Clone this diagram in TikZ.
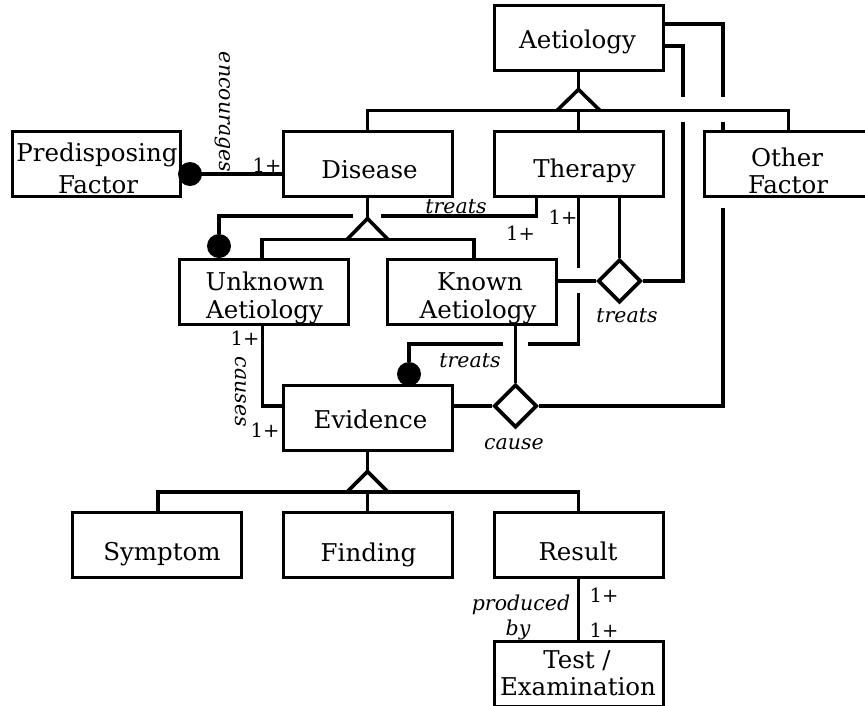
\documentclass[tikz,border=0pt]{standalone}
\usepackage{fontspec}
\setmainfont{DejaVu Serif}
\usetikzlibrary{calc,shapes.geometric,backgrounds}
\tikzset{
  conn/.style={line width=3.6pt, line cap=butt, line join=miter},
  box/.style={draw, line width=3pt, fill=white, minimum width=169pt, minimum height=65pt, inner sep=0pt},
  btxt/.style={anchor=base, inner sep=0pt, font=\fontsize{24.5}{28}\selectfont},
  itl/.style={anchor=base, inner sep=0pt, font=\fontsize{20.5}{24}\selectfont\itshape},
  card/.style={anchor=base, inner sep=0pt, font=\fontsize{19.5}{22}\selectfont},
  dotc/.style={circle, fill=black, minimum size=24pt, inner sep=0pt},
  dia/.style={diamond, draw, line width=3.6pt, fill=white, minimum width=43pt, minimum height=43pt, inner sep=0pt}
}
\begin{document}
\begin{tikzpicture}[x=1pt,y=-1pt]
\useasboundingbox (0,0) rectangle (865,705);
\clip (0,0) rectangle (865,705);
% boxes
\node[box] (aet) at (578.5,37.5) {};
\node[box, minimum width=168pt] (pf) at (96,163.5) {};
\node[box] (dis) at (367.5,163.5) {};
\node[box] (ther) at (578.5,163.5) {};
\node[box] (oth) at (788.5,163.5) {};
\node[box] (unk) at (263.5,291.5) {};
\node[box] (kno) at (471.5,291.5) {};
\node[box] (evi) at (367.5,417.5) {};
\node[box] (sym) at (156.5,545) {};
\node[box] (fin) at (367.5,545) {};
\node[box] (res) at (578.5,545) {};
\node[box] (test) at (578.5,673.5) {};
% relationship diamonds and dots
\node[dia] (td) at (619.5,281) {};
\node[dia] (cd) at (515.5,406) {};
\node[dotc] (dotP) at (190,174) {};
\node[dotc] (dotU) at (219,246) {};
\node[dotc] (dotE) at (409,374) {};
% box texts
\node[btxt] (aett) at (577.5,48) {Aetiology};
\node[btxt] (pft1) at (97,161) {Predisposing};
\node[btxt] (pft2) at (98,193) {Factor};
\node[btxt] (dist) at (369.5,178) {Disease};
\node[btxt] (thert) at (584.5,177) {Therapy};
\node[btxt] (otht1) at (787,166) {Other};
\node[btxt] (otht2) at (788,193) {Factor};
\node[btxt] (unkt1) at (265,290) {Unknown};
\node[btxt] (unkt2) at (264.5,318) {Aetiology};
\node[btxt] (knot1) at (480,290) {Known};
\node[btxt] (knot2) at (478,318) {Aetiology};
\node[btxt] (evit) at (370.5,428) {Evidence};
\node[btxt] (symt) at (162,560) {Symptom};
\node[btxt] (fint) at (368.5,561) {Finding};
\node[btxt] (rest) at (578,560) {Result};
\node[btxt] (testt1) at (577,668) {Test /};
\node[btxt] (testt2) at (578,695) {Examination};
% connector labels
\node[itl, anchor=center, rotate=-90] (encl) at (223,112) {encourages};
\node[card] (c1) at (267,172) {1+};
\node[itl] (trU) at (456,213) {treats};
\node[card] (c2) at (520.5,240) {1+};
\node[card] (c3) at (563,224) {1+};
\node[itl] (trD) at (627,322) {treats};
\node[itl] (trE) at (470,367) {treats};
\node[card] (c4) at (245,345) {1+};
\node[itl, anchor=center, rotate=-90] (causl) at (241,392) {causes};
\node[card] (c5) at (265,437) {1+};
\node[itl] (causel) at (514,449) {cause};
\node[itl] (prodl1) at (521,610) {produced};
\node[itl] (prodl2) at (518,635) {by};
\node[card] (c6) at (604,602) {1+};
\node[card] (c7) at (604,637) {1+};
% bend / gap coordinates
\coordinate (cA1) at (723,97);
\coordinate (cA2) at (723,122);
\coordinate (cA3) at (723,145);
\coordinate (cA4) at (723,208);
\coordinate (tA1) at (683,97);
\coordinate (tA2) at (683,122);
\coordinate (tE1) at (578.5,268);
\coordinate (tE2) at (578.5,293);
\coordinate (tE3) at (528,344);
\coordinate (tE4) at (503,344);
\coordinate (tU1) at (381,216);
\coordinate (tU2) at (353,216);
\begin{pgfonlayer}{background}
% Aetiology generalisation
\draw[conn] (aet.south) -- ++(0,18) coordinate (g1a);
\draw[conn] ($(g1a)+(-21.5,21)$) -- (g1a) -- ($(g1a)+(21.5,21)$);
\coordinate (g1b) at ($(g1a)+(0,21)$);
\draw[conn] (dis.north) |- (g1b) -| (oth.north);
\draw[conn] (g1b) -- (ther.north);
% Aetiology -- cause
\draw[conn] ($(aet.east)+(0,-13.5)$) -| (cA1);
\draw[conn] (cA2) -- (cA3);
\draw[conn] (cA4) |- (cd.east);
% Aetiology -- treats
\draw[conn] ($(aet.east)+(0,8.5)$) -| (tA1);
\draw[conn] (tA2) |- (td.east);
\draw[conn] (ther.south -| td.north) -- (td.north);
\draw[conn] (td.west) -- (td.west -| kno.east);
% Therapy treats Evidence
\draw[conn] (ther.south) -- (tE1);
\draw[conn] (tE2) |- (tE3);
\draw[conn] (tE4) -| (dotE);
% Therapy treats Unknown
\draw[conn] ($(ther.south west)+(44,0)$) |- (tU1);
\draw[conn] (tU2) -| (dotU);
% Disease generalisation
\draw[conn] (dis.south) -- ++(0,21) coordinate (g2a);
\draw[conn] ($(g2a)+(-20.5,21)$) -- (g2a) -- ($(g2a)+(20.5,21)$);
\coordinate (g2b) at ($(g2a)+(0,21)$);
\draw[conn] ($(unk.north)+(-1.5,0)$) |- (g2b) -| ($(kno.north)+(2.5,0)$);
% Predisposing encourages Disease
\draw[conn] (pf.east |- dotP) -- (dotP -| dis.west);
% Unknown causes Evidence
\draw[conn] ($(unk.south)+(-1,0)$) |- (evi.west |- cd);
% Known -- cause -- Evidence
\draw[conn] (kno.south -| cd.north) -- (cd.north);
\draw[conn] (cd.west) -- (cd.west -| evi.east);
% Evidence generalisation
\draw[conn] (evi.south) -- ++(0,20) coordinate (g3a);
\draw[conn] ($(g3a)+(-20.5,20.5)$) -- (g3a) -- ($(g3a)+(20.5,20.5)$);
\coordinate (g3b) at ($(g3a)+(0,20.5)$);
\draw[conn] ($(sym.north)+(1.5,0)$) |- (g3b) -| (res.north);
\draw[conn] (g3b) -- (fin.north);
% Result produced by Test
\draw[conn] (res.south) -- (test.north);
\end{pgfonlayer}
\end{tikzpicture}
\end{document}
